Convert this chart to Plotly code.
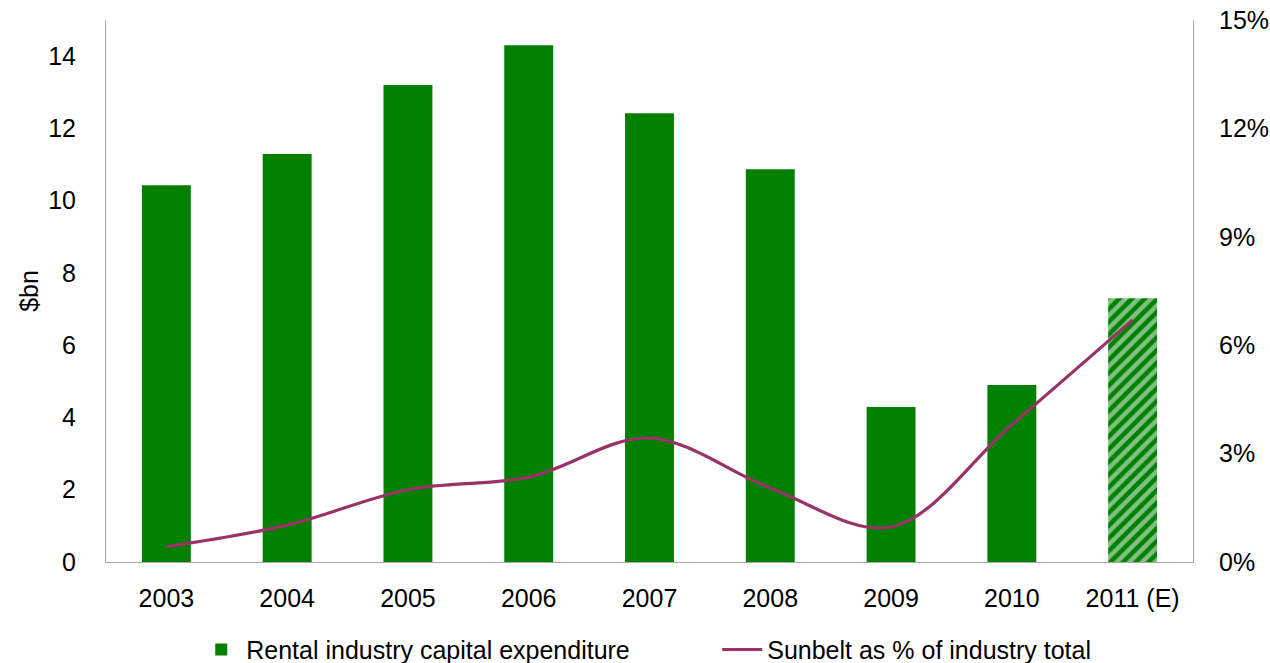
import plotly.graph_objects as go

years = ["2003", "2004", "2005", "2006", "2007", "2008", "2009", "2010", "2011 (E)"]
capex_bn = [10.43, 11.29, 13.2, 14.3, 12.42, 10.87, 4.29, 4.9, 7.3]
sunbelt_pct = [0.42, 1.02, 2.0, 2.35, 3.43, 2.05, 0.97, 3.8, 6.7]
estimate = [False] * 8 + [True]

pct_ticks = [0, 3, 6, 9, 12, 15]
bn_ticks = [0, 2, 4, 6, 8, 10, 12, 14]

GREEN = "#008000"
PLUM = "#993366"
AXIS = "#A6A6A6"
FONT = "Liberation Sans, Arial, sans-serif"

fig = go.Figure()

# Capex bars; the estimated year is hatched
fig.add_trace(go.Bar(
    x=years, y=capex_bn,
    name="Rental industry capital expenditure",
    marker=dict(
        color=GREEN,
        line=dict(width=0),
        pattern=dict(
            shape=["/" if e else "" for e in estimate],
            fillmode="overlay", fgcolor="white", size=9, solidity=0.5,
        ),
    ),
    yaxis="y",
))

# Sunbelt share on the secondary axis
fig.add_trace(go.Scatter(
    x=years, y=sunbelt_pct,
    name="Sunbelt as % of industry total",
    mode="lines",
    line=dict(color=PLUM, width=3.2, shape="spline", smoothing=1),
    yaxis="y2",
))

fig.update_layout(
    width=1270, height=663,
    margin=dict(l=106, r=77, t=20, b=101),
    paper_bgcolor="white", plot_bgcolor="white",
    font=dict(family=FONT, size=25, color="black"),
    bargap=0.595,
    showlegend=True,
    legend=dict(
        orientation="h", x=0.083, xanchor="left",
        yref="container", y=0.02, yanchor="middle",
        font=dict(size=25), entrywidth=466, itemwidth=40,
        bgcolor="rgba(0,0,0,0)",
    ),
    xaxis=dict(
        showgrid=False, showline=True, linecolor=AXIS, linewidth=1,
        ticks="", tickfont=dict(size=25), ticklabelstandoff=14,
        automargin=False,
    ),
    yaxis=dict(
        range=[0, 15], tickvals=bn_ticks,
        showgrid=False, showline=True, linecolor=AXIS, linewidth=1,
        ticks="", zeroline=False, tickfont=dict(size=25), ticklabelstandoff=24,
        title=dict(text="$bn", font=dict(size=25), standoff=2),
        automargin=False,
    ),
    yaxis2=dict(
        range=[0, 15], tickvals=pct_ticks,
        ticktext=[f"{v}%" for v in pct_ticks],
        overlaying="y", side="right",
        showgrid=False, showline=True, linecolor=AXIS, linewidth=1,
        ticks="", zeroline=False, tickfont=dict(size=25), ticklabelstandoff=20,
        automargin=False,
    ),
)

fig.write_html("out.html")
